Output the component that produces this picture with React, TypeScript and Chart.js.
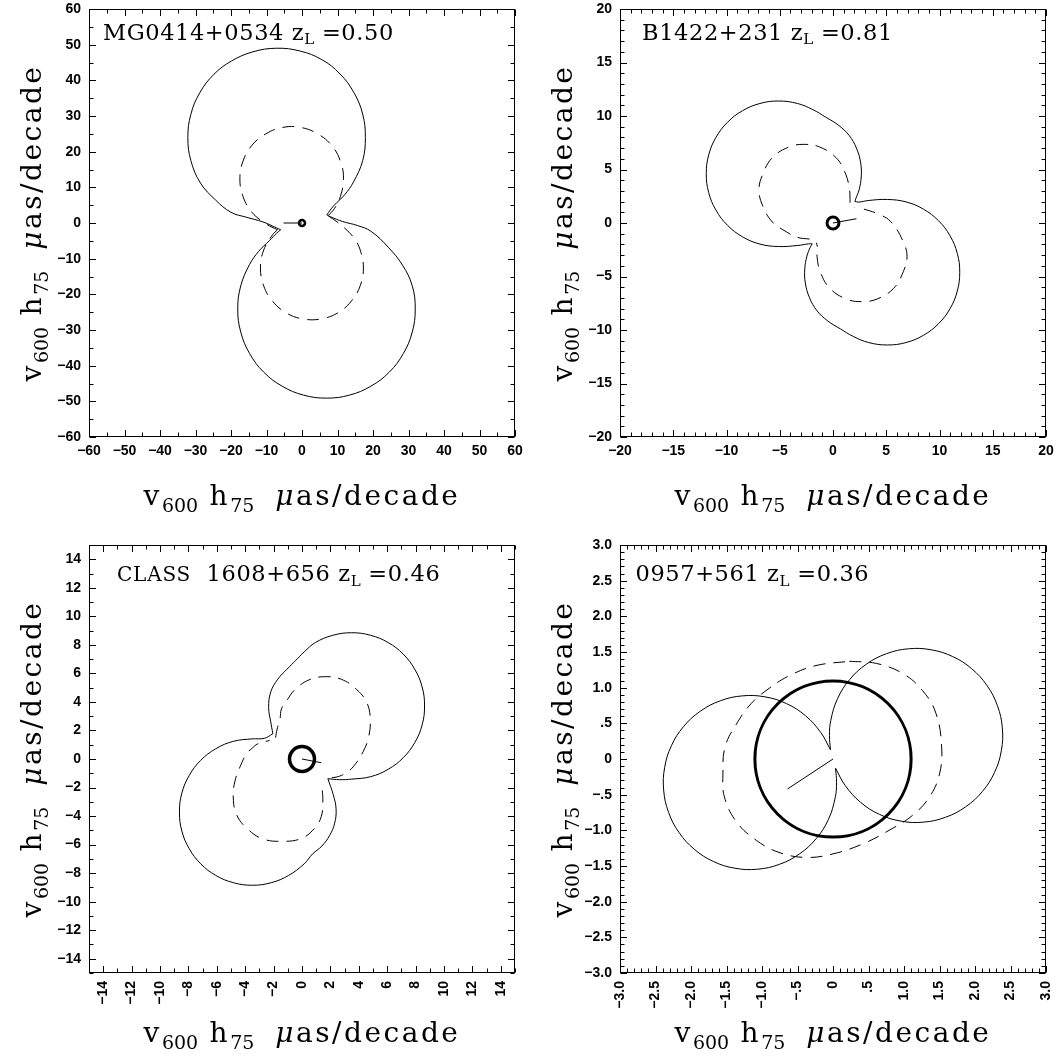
import React, { useEffect, useRef } from "react";
import { Chart, registerables } from "chart.js";

Chart.register(...registerables);

// ================= DATA =================
// Panel 1: MG0414+0534
const mgSolidUpper = [[-6.0,-1.9],[-7.1,-1.4],[-11.0,0.3],[-15.6,1.6],[-20.0,3.0],[-24.4,6.5],[-28.6,11.2],[-31.3,17.5],[-32.15,24.0],[-31.3,30.5],[-28.8,36.5],[-24.8,41.7],[-19.9,45.4],[-13.8,48.0],[-7.15,49.0],[-0.5,48.2],[5.6,45.8],[10.7,41.8],[14.6,36.6],[17.1,30.5],[17.85,24.0],[17.1,17.5],[14.5,11.5],[12.0,7.9],[8.9,4.8],[7.0,2.3]];
const mgSolidLower = [[7.0,2.3],[7.9,1.8],[11.5,0.4],[15.6,-0.7],[19.4,-2.3],[24.3,-6.8],[28.3,-11.8],[31.05,-17.6],[31.9,-24.1],[31.05,-30.6],[28.55,-36.6],[24.6,-41.8],[19.4,-45.75],[13.4,-48.25],[6.9,-49.1],[0.4,-48.25],[-5.6,-45.75],[-10.8,-41.8],[-14.75,-36.6],[-17.25,-30.6],[-18.1,-24.1],[-17.25,-17.6],[-14.75,-11.6],[-12.25,-8.0],[-9.2,-4.95],[-7.2,-2.9],[-6.0,-1.9]];
const mgDashUpper = [[-6.9,-1.9],[-10.2,-0.2],[-14.1,3.0],[-16.6,7.4],[-17.5,12.4],[-16.6,17.4],[-14.1,21.8],[-10.2,25.0],[-5.4,26.8],[-0.4,26.8],[4.4,25.0],[8.3,21.8],[10.8,17.4],[11.7,12.4],[10.8,7.4],[9.1,4.0],[7.2,1.9]];
const mgDashLower = [[7.4,2.0],[9.6,0.5],[12.1,-1.5],[14.7,-4.3],[16.4,-7.6],[17.3,-12.6],[16.4,-17.6],[13.9,-21.9],[10.05,-25.2],[5.3,-26.9],[0.3,-26.9],[-4.45,-25.2],[-8.3,-21.9],[-10.8,-17.6],[-11.7,-12.6],[-10.8,-7.6],[-8.3,-3.3],[-6.9,-1.9]];
const mgVector = [[-5.2,0],[0,0]];
const mgRing = 0.85;
const mgTicks = [-60,-50,-40,-30,-20,-10,0,10,20,30,40,50,60];
const mgTickLabels = ["\u221260","\u221250","\u221240","\u221230","\u221220","\u221210","0","10","20","30","40","50","60"];

// Panel 2: B1422+231
const b14SolidUpper = [[-1.95,-1.94],[-2.3,-1.95],[-3.3,-2.1],[-5.1,-2.2],[-6.86,-1.97],[-8.5,-1.29],[-9.91,-0.21],[-10.99,1.2],[-11.67,2.84],[-11.9,4.6],[-11.67,6.36],[-10.99,8.0],[-9.91,9.41],[-8.5,10.49],[-6.86,11.17],[-5.1,11.4],[-3.34,11.17],[-1.9,10.6],[-0.7,9.9],[0.5,9.15],[1.5,8.2],[2.2,7.0],[2.6,5.6],[2.65,4.3],[2.45,3.1],[2.15,2.3],[2.06,2.02]];
const b14SolidLower = [[2.06,2.02],[2.4,1.95],[3.3,2.1],[5.1,2.2],[6.86,1.97],[8.5,1.29],[9.91,0.21],[10.99,-1.2],[11.67,-2.84],[11.9,-4.6],[11.67,-6.36],[10.99,-8.0],[9.91,-9.41],[8.5,-10.49],[6.86,-11.17],[5.1,-11.4],[3.34,-11.17],[1.9,-10.6],[0.7,-9.9],[-0.5,-9.15],[-1.5,-8.2],[-2.2,-7.0],[-2.6,-5.6],[-2.65,-4.3],[-2.45,-3.1],[-2.15,-2.3],[-1.95,-1.94]];
const b14DashUpper = [[-2.2,-1.5],[-3.3,-1.35],[-4.5,-0.75],[-5.7,0.1],[-6.6,1.6],[-6.95,3.1],[-6.6,4.55],[-5.7,6.1],[-4.15,7.1],[-2.7,7.35],[-1.25,7.1],[0.3,6.1],[1.2,4.55],[1.55,3.1],[1.6,2.2],[1.65,1.5],[2.0,1.45]];
const b14DashLower = [[2.9,1.3],[4.1,0.9],[5.4,0.15],[6.55,-1.65],[6.95,-3.1],[6.6,-4.55],[5.7,-6.1],[4.15,-7.1],[2.7,-7.35],[1.25,-7.1],[-0.3,-6.1],[-1.2,-4.55],[-1.5,-3.1],[-1.45,-2.4],[-1.55,-1.85]];
const b14Vector = [[0,0],[2.2,0.4]];
const b14Ring = 0.56;
const b14Ticks = [-20,-15,-10,-5,0,5,10,15,20];
const b14TickLabels = ["\u221220","\u221215","\u221210","\u22125","0","5","10","15","20"];

// Panel 3: CLASS 1608+656
const clSolidUpper = [[-2.05,1.77],[-2.2,2.6],[-2.35,3.6],[-2.2,4.7],[-1.7,5.6],[-1.05,6.3],[-0.45,6.9],[0.15,7.5],[0.94,8.16],[2.17,8.67],[3.5,8.85],[4.83,8.67],[6.07,8.16],[7.13,7.35],[7.94,6.29],[8.46,5.05],[8.63,3.72],[8.46,2.39],[7.94,1.15],[7.13,0.09],[6.07,-0.72],[4.83,-1.24],[3.5,-1.41],[2.65,-1.45],[1.82,-1.38]];
const clSolidLower = [[1.82,-1.38],[2.2,-2.5],[2.4,-3.5],[2.3,-4.5],[1.95,-5.35],[1.4,-6.1],[0.75,-6.65],[0.15,-7.35],[-0.94,-8.16],[-2.17,-8.67],[-3.5,-8.85],[-4.83,-8.67],[-6.07,-8.16],[-7.13,-7.35],[-7.94,-6.29],[-8.46,-5.05],[-8.63,-3.72],[-8.46,-2.39],[-7.94,-1.15],[-7.13,-0.09],[-6.07,0.72],[-4.83,1.24],[-3.5,1.41],[-2.65,1.45],[-2.05,1.77]];
const clDashUpper = [[-1.86,1.5],[-1.75,2.1],[-1.55,2.8],[-1.45,3.5],[-1.1,4.05],[-0.5,4.86],[0.5,5.55],[1.6,5.77],[2.79,5.58],[3.86,4.86],[4.58,3.92],[4.81,2.73],[4.69,1.54],[4.3,0.5],[3.6,-0.55],[3.07,-1.0],[2.4,-1.27],[1.75,-1.31]];
const clDashLower = [[1.43,-2.2],[1.47,-2.95],[1.36,-4.03],[0.88,-4.86],[-0.07,-5.58],[-1.5,-5.77],[-2.81,-5.58],[-3.88,-4.86],[-4.6,-3.92],[-4.84,-2.73],[-4.72,-1.54],[-4.3,-0.4],[-3.9,0.37],[-3.55,0.72],[-3.1,1.07],[-2.28,1.3]];
const clVector = [[0,0],[1.36,-0.26]];
const clRing = 0.88;
const clTicks = [-14,-12,-10,-8,-6,-4,-2,0,2,4,6,8,10,12,14];
const clTickLabels = ["\u221214","\u221212","\u221210","\u22128","\u22126","\u22124","\u22122","0","2","4","6","8","10","12","14"];

// Panel 4: 0957+561
const q09SolidLeft = [[-0.036,0.13],[-0.171,0.37],[-0.386,0.605],[-0.654,0.776],[-0.958,0.871],[-1.276,0.885],[-1.587,0.816],[-1.87,0.669],[-2.105,0.454],[-2.276,0.186],[-2.371,-0.118],[-2.385,-0.436],[-2.316,-0.747],[-2.169,-1.03],[-1.954,-1.265],[-1.686,-1.436],[-1.382,-1.531],[-1.064,-1.545],[-0.753,-1.476],[-0.47,-1.329],[-0.235,-1.114],[-0.064,-0.846],[0.031,-0.542],[0.05,-0.33],[0.036,-0.13]];
const q09SolidRight = [[0.036,-0.13],[0.171,-0.37],[0.386,-0.605],[0.654,-0.776],[0.958,-0.871],[1.276,-0.885],[1.587,-0.816],[1.87,-0.669],[2.105,-0.454],[2.276,-0.186],[2.371,0.118],[2.385,0.436],[2.316,0.747],[2.169,1.03],[1.954,1.265],[1.686,1.436],[1.382,1.531],[1.064,1.545],[0.753,1.476],[0.47,1.329],[0.235,1.114],[0.064,0.846],[-0.031,0.542],[-0.05,0.33],[-0.036,0.13]];
const q09Dash = [[0.23,1.37],[0.61,1.34],[0.98,1.2],[1.26,0.96],[1.45,0.64],[1.53,0.17],[1.5,-0.21],[1.36,-0.53],[1.12,-0.79],[0.79,-1.0],[0.42,-1.19],[0.0,-1.33],[-0.38,-1.38],[-0.76,-1.31],[-1.08,-1.14],[-1.36,-0.88],[-1.53,-0.53],[-1.55,-0.21],[-1.52,0.17],[-1.36,0.49],[-1.15,0.78],[-0.9,0.99],[-0.61,1.17],[-0.24,1.31],[0.23,1.37]];
const q09Vector = [[0,0],[-0.64,-0.42]];
const q09Ring = 1.1;
const q09Ticks = [-3,-2.5,-2,-1.5,-1,-0.5,0,0.5,1,1.5,2,2.5,3];
const q09TickLabels = ["\u22123.0","\u22122.5","\u22122.0","\u22121.5","\u22121.0","\u2212.5","0",".5","1.0","1.5","2.0","2.5","3.0"];

// ================= STYLE / LAYOUT =================
const SERIF = '"DejaVu Serif", serif';
const AXIS_SEGS = [
  { t: "v", size: 28, ls: 2.5 },
  { t: "600", size: 19, dy: 7 },
  { t: " h", size: 28, ls: 2.5 },
  { t: "75", size: 19, dy: 7 },
  { t: "  ", size: 28, ls: 1.6 },
  { t: "\u03bc", size: 28, italic: true, ls: 2.5 },
  { t: "as/decade", size: 28, ls: 2.5 },
];
function titleSegs(pre: any[], rest: string) {
  return [...pre, { t: "L", size: 15, dy: 4.5 }, { t: rest, size: 22.5, ls: 0.6 }];
}

const panels: any[] = [
  {
    left: 0, top: 0, w: 528, h: 530, frame: { l: 89, t: 9, r: 515, b: 437 }, range: 60,
    ticks: mgTicks, labels: mgTickLabels, minor: 5, rotate: false,
    curves: [{ d: mgSolidUpper }, { d: mgSolidLower }, { d: mgDashUpper, dash: true }, { d: mgDashLower, dash: true }],
    vector: mgVector, ring: mgRing, ringWidth: 2.5, ringFill: "#fff",
    title: titleSegs([{ t: "MG0414+0534 z", size: 22.5, ls: 0.6 }], " =0.50"), tdx: 14, tdy: 30.6, xdy: 68.4,
  },
  {
    left: 528, top: 0, w: 529, h: 530, frame: { l: 620, t: 9, r: 1046, b: 437 }, range: 20,
    ticks: b14Ticks, labels: b14TickLabels, minor: 1, rotate: false,
    curves: [{ d: b14SolidUpper }, { d: b14SolidLower }, { d: b14DashUpper, dash: true }, { d: b14DashLower, dash: true }],
    vector: b14Vector, ring: b14Ring, ringWidth: 3, ringFill: "rgba(0,0,0,0)",
    title: titleSegs([{ t: "B1422+231 z", size: 22.5, ls: 0.6 }], " =0.81"), tdx: 22, tdy: 30.6, xdy: 68.4,
  },
  {
    left: 0, top: 530, w: 528, h: 531, frame: { l: 89, t: 545, r: 515, b: 973 }, range: 15,
    ticks: clTicks, labels: clTickLabels, minor: 1, rotate: true,
    curves: [{ d: clSolidUpper }, { d: clSolidLower }, { d: clDashUpper, dash: true }, { d: clDashLower, dash: true }],
    vector: clVector, ring: clRing, ringWidth: 3.5, ringFill: "rgba(0,0,0,0)",
    title: titleSegs([{ t: "CLASS", size: 20, ls: 0.8 }, { t: "  1608+656 z", size: 22.5, ls: 0.6 }], " =0.46"), tdx: 28, tdy: 36, xdy: 69,
  },
  {
    left: 528, top: 530, w: 529, h: 531, frame: { l: 620, t: 545, r: 1046, b: 973 }, range: 3,
    ticks: q09Ticks, labels: q09TickLabels, minor: 0.1, rotate: true,
    curves: [{ d: q09SolidLeft }, { d: q09SolidRight }, { d: q09Dash, dash: true }],
    vector: q09Vector, ring: q09Ring, ringWidth: 3, ringFill: "rgba(0,0,0,0)",
    title: titleSegs([{ t: "0957+561 z", size: 22.5, ls: 0.6 }], " =0.36"), tdx: 15.5, tdy: 36, xdy: 69,
  },
];

// ================= HELPERS =================
function fontOf(s: any) {
  return `${s.italic ? "italic " : ""}${s.size}px ${SERIF}`;
}
function drawSegs(ctx: any, segs: any[], x: number, y: number, align: string) {
  const widths = segs.map((s) => {
    ctx.font = fontOf(s);
    ctx.letterSpacing = "0px";
    return ctx.measureText(s.t).width + (s.ls || 0) * s.t.length;
  });
  const total = widths.reduce((a: number, b: number) => a + b, 0);
  let cx = align === "center" ? x - total / 2 : x;
  segs.forEach((s, i) => {
    ctx.font = fontOf(s);
    ctx.letterSpacing = `${s.ls || 0}px`;
    ctx.fillText(s.t, cx, y + (s.dy || 0));
    cx += widths[i];
  });
  ctx.letterSpacing = "0px";
}
const toXY = (arr: number[][]) => arr.map(([x, y]) => ({ x, y }));

const framePlugin = {
  id: "frameTicks",
  afterDatasetsDraw(chart: any, _a: any, o: any) {
    const { ctx, chartArea: a } = chart;
    const xs = chart.scales.x, ys = chart.scales.y;
    ctx.save();
    ctx.strokeStyle = "#000";
    ctx.lineWidth = 1;
    ctx.setLineDash([]);
    const L = Math.round(a.left) + 0.5, R = Math.round(a.right) - 0.5;
    const T = Math.round(a.top) + 0.5, B = Math.round(a.bottom) - 0.5;
    ctx.strokeRect(L, T, R - L, B - T);
    const n = Math.round((o.max - o.min) / o.minor);
    ctx.beginPath();
    for (let i = 0; i <= n; i++) {
      const v = o.min + i * o.minor;
      const major = o.major.some((m: number) => Math.abs(m - v) < 1e-6);
      const len = major ? 6.5 : 4;
      const px = Math.round(xs.getPixelForValue(v)) + 0.5;
      ctx.moveTo(px, B); ctx.lineTo(px, B - len);
      ctx.moveTo(px, T); ctx.lineTo(px, T + len);
      const py = Math.round(ys.getPixelForValue(v)) + 0.5;
      ctx.moveTo(L, py); ctx.lineTo(L + len, py);
      ctx.moveTo(R, py); ctx.lineTo(R - len, py);
    }
    ctx.stroke();
    ctx.restore();
  },
};

const textPlugin = {
  id: "panelText",
  afterDraw(chart: any, _a: any, o: any) {
    const { ctx, chartArea: a } = chart;
    ctx.save();
    ctx.fillStyle = "#000";
    ctx.textBaseline = "alphabetic";
    ctx.textAlign = "left";
    drawSegs(ctx, o.title, a.left + o.tdx, a.top + o.tdy, "left");
    const cx = (a.left + a.right) / 2, cy = (a.top + a.bottom) / 2;
    drawSegs(ctx, AXIS_SEGS, cx, a.bottom + o.xdy, "center");
    ctx.translate(a.left - 48.5, cy);
    ctx.rotate(-Math.PI / 2);
    drawSegs(ctx, AXIS_SEGS, 0, 0, "center");
    ctx.restore();
  },
};

function buildConfig(p: any) {
  const fl = p.frame.l - p.left, ft = p.frame.t - p.top, fr = p.frame.r - p.left, fb = p.frame.b - p.top;
  const tickFont = { family: '"Liberation Sans", Arial, sans-serif', size: 14, weight: "bold" };
  const datasets: any[] = p.curves.map((c: any) => ({
    data: toXY(c.d),
    showLine: true,
    borderColor: "#000",
    borderWidth: 1,
    borderDash: c.dash ? [12, 8] : [],
    pointRadius: 0,
    tension: 0.4,
    fill: false,
  }));
  datasets.push({ data: toXY(p.vector), showLine: true, borderColor: "#000", borderWidth: 1, pointRadius: 0, tension: 0 });
  datasets.push({
    data: [{ x: 0, y: 0 }],
    showLine: false,
    pointStyle: "circle",
    pointRadius: (ctx: any) => {
      const s = ctx.chart.scales.x;
      return Math.abs(s.getPixelForValue(p.ring) - s.getPixelForValue(0));
    },
    pointBorderWidth: p.ringWidth,
    pointBorderColor: "#000",
    pointBackgroundColor: p.ringFill,
  });
  const rot = p.rotate ? 90 : 0;
  const common = () => ({
    type: "linear",
    min: -p.range,
    max: p.range,
    grid: { display: false, drawTicks: false },
    border: { display: false },
    afterBuildTicks: (s: any) => {
      s.ticks = p.ticks.map((v: number) => ({ value: v }));
    },
  });
  return {
    type: "scatter",
    data: { datasets },
    plugins: [framePlugin, textPlugin],
    options: {
      responsive: false,
      animation: false,
      devicePixelRatio: 1,
      events: [],
      layout: { padding: { left: 0, top: ft, right: p.w - fr, bottom: 0 } },
      scales: {
        x: {
          ...common(),
          position: "bottom",
          afterFit: (s: any) => {
            s.height = p.h - fb;
            s.paddingLeft = 0;
            s.paddingRight = 0;
          },
          ticks: {
            autoSkip: false,
            minRotation: rot,
            maxRotation: rot,
            padding: p.rotate ? 8 : 6,
            color: "#000",
            font: tickFont,
            callback: (_v: any, i: number) => p.labels[i],
          },
        },
        y: {
          ...common(),
          position: "left",
          afterFit: (s: any) => {
            s.width = fl;
            s.paddingTop = 0;
            s.paddingBottom = 0;
          },
          ticks: {
            autoSkip: false,
            padding: 8,
            color: "#000",
            font: tickFont,
            callback: (_v: any, i: number) => p.labels[i],
          },
        },
      },
      plugins: {
        legend: { display: false },
        tooltip: { enabled: false },
        frameTicks: { min: -p.range, max: p.range, minor: p.minor, major: p.ticks },
        panelText: { title: p.title, tdx: p.tdx, tdy: p.tdy, xdy: p.xdy },
      },
    },
  };
}

function Panel({ p }: { p: any }) {
  const ref = useRef<HTMLCanvasElement | null>(null);
  useEffect(() => {
    const chart = new Chart(ref.current as any, buildConfig(p) as any);
    return () => chart.destroy();
  }, [p]);
  return (
    <canvas
      ref={ref}
      width={p.w}
      height={p.h}
      style={{ position: "absolute", left: p.left, top: p.top, width: p.w, height: p.h }}
    />
  );
}

export default function App() {
  return (
    <div style={{ position: "fixed", left: 0, top: 0, width: 1057, height: 1061, background: "#fff", overflow: "hidden" }}>
      {panels.map((p, i) => (
        <Panel key={i} p={p} />
      ))}
    </div>
  );
}
